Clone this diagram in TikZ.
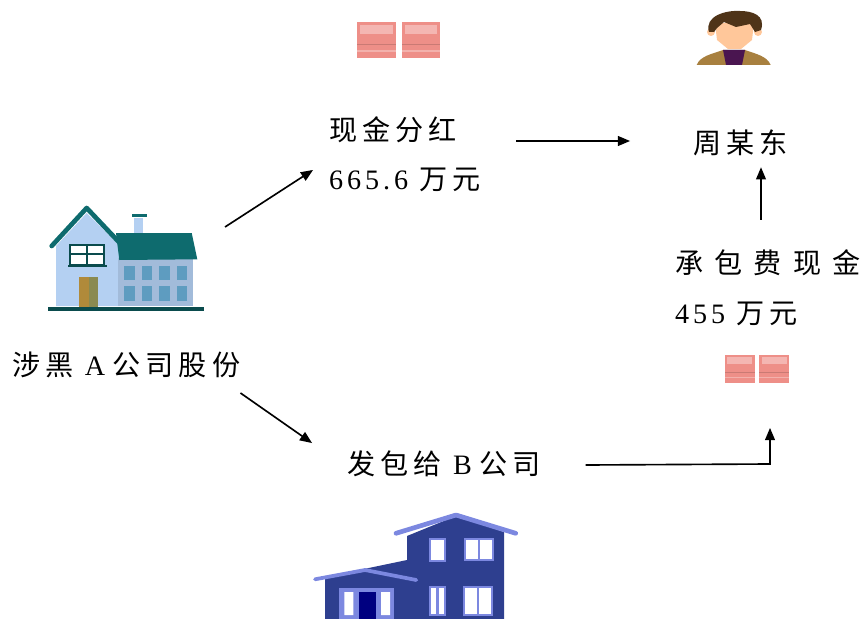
\documentclass[tikz,border=0pt]{standalone}
\usepackage{fontspec}
\usepackage{tikz}
\usetikzlibrary{arrows, calc, positioning}
\setmainfont{Noto Sans CJK SC}[LetterSpace=18]
\newfontfamily\latinfont{Liberation Serif}[LetterSpace=14]
\definecolor{tealroof}{HTML}{0E6B6E}
\definecolor{wallblue}{HTML}{B4D0F2}
\definecolor{winblue}{HTML}{5E9CC0}
\definecolor{doorleft}{HTML}{B08A3A}
\definecolor{doorright}{HTML}{8A8A50}
\definecolor{navywall}{HTML}{2E3F8F}
\definecolor{navyroof}{HTML}{7C88E0}
\definecolor{notered}{HTML}{EE8F88}
\definecolor{jacket}{HTML}{A8803F}
\definecolor{hairbrown}{HTML}{4F3418}
\definecolor{facepeach}{HTML}{FFC79A}
\definecolor{shirtpurple}{HTML}{4A1550}
\tikzset{
    label/.style={font=\fontsize{24}{28}\selectfont, inner sep=0pt, anchor=west},
    flow/.style={line width=1.4pt, ->},
    moneypile/.pic={
        \foreach \xa in {0,44.4}{
            \fill[notered] (\xa,0) rectangle ++(38.6,36.6);
            \fill[notered!65!white] (\xa+3,3) rectangle ++(32.6,9);
            \fill[notered!85!black] (\xa,22) rectangle ++(38.6,1.5);
            \fill[notered!70!white] (\xa,28) rectangle ++(38.6,2);
        }
    }
}
\begin{document}
\begin{tikzpicture}[x=0.03cm, y=-0.03cm, >=triangle 45]
    \useasboundingbox (0,0) rectangle (867,619);

    % texts
    \node[label] (share) at (12,365) {涉黑 {\latinfont A}\kern-3.4pt{} 公司股份};
    \node[label] (cash) at (329,130) {现金分红};
    \node[label] (cashsum) at (329,180) {{\latinfont 665.6} 万元};
    \node[label] (zhou) at (693,143) {周某东};
    \node[label] (fee) at (675,263) {\addfontfeature{LetterSpace=40}承包费现金};
    \node[label] (feesum) at (675,314) {{\latinfont 455} 万元};
    \node[label] (contract) at (347,464) {发包给 {\latinfont B}\kern-3.4pt{} 公司};
    \coordinate (houseA) at (205,260);

    % house of company A
    \fill[wallblue] (56,246) -- (86.7,213) -- (120,246) -- (120,306) -- (56,306) -- cycle;
    \fill[wallblue!90!black] (118,258) rectangle (193,306);
    \fill[wallblue] (134,218) rectangle (143.3,233);
    \fill[tealroof] (131.7,214) rectangle (147.3,217);
    \fill[tealroof] (116,233) -- (191.7,233) -- (197.3,259.3) -- (119.3,260) -- cycle;
    \draw[tealroof, line width=4pt, line cap=round, line join=round] (51.7,246) -- (86.7,208) -- (123.3,246.7);
    \fill[white] (70,245) rectangle (104,265);
    \draw[tealroof!70!black, line width=1.8pt] (70,245) rectangle (104,265) (87,245) -- (87,265) (70,254) -- (104,254);
    \fill[tealroof!70!black] (68.3,264.5) rectangle (106.7,266.5);
    \fill[doorleft] (79,277) rectangle (89,306.7);
    \fill[doorright] (89,277) rectangle (97.7,306.7);
    \foreach \xa in {124.3,141.7,159.3,176.7}{
        \fill[winblue] (\xa,266) rectangle ++(10.7,14);
        \fill[winblue] (\xa,286) rectangle ++(10.7,14.7);
    }
    \draw[tealroof!70!black, line width=3pt] (48,309) -- (204,309);

    % notes and person
    \pic at (357.3,21.7) {moneypile};
    \pic[scale=0.77] at (725,355) {moneypile};
    \fill[jacket] (696.7,65) .. controls (700,56) and (712,54) .. (723,50) -- (745,50) .. controls (756,54) and (767,56) .. (770.7,65) -- cycle;
    \fill[shirtpurple] (723,50) -- (745,50) -- (742,65) -- (726,65) -- cycle;
    \fill[facepeach] (711,32) circle (4) (758,32) circle (4);
    \fill[facepeach] (715,23) -- (754,23) -- (752,40) -- (741,49) -- (728,49) -- (717,40) -- cycle;
    \fill[hairbrown] (709,32) .. controls (704,16) and (726,10) .. (740,11) .. controls (752,11) and (766,15) .. (761,30) -- (755,32) -- (750,24) -- (736,27) -- (724,22) -- (717,28) -- (714,32) -- cycle;

    % house of company B
    \fill[navywall] (407,536) -- (407,560) -- (340,574) -- (325,578) -- (325,619) -- (504,619) -- (504,532) -- (456,516) -- cycle;
    \draw[navyroof, line width=4pt, line cap=round, line join=round] (396,533.3) -- (456,515) -- (515.7,533.3);
    \draw[navyroof, line width=3.2pt, line cap=round, line join=round] (315,579.3) -- (365,570) -- (416.3,580);
    \foreach \xa/\ya/\wa/\ha in {430/539.3/15/21.7, 465/539/28.3/21, 430/587.3/15/27.7, 464/587.3/27.7/27.7}{
        \fill[white] (\xa,\ya) rectangle ++(\wa,\ha);
        \draw[navyroof, line width=2pt] (\xa,\ya) rectangle ++(\wa,\ha);
    }
    \draw[navyroof, line width=2pt] (479,539) -- (479,560) (478,587.3) -- (478,615) (437.5,587.3) -- (437.5,615);
    \fill[navyroof] (339.3,588) rectangle (394.3,619);
    \fill[white] (344.3,592) rectangle (353.3,615) (381,592) rectangle (390,615);
    \fill[black!50!blue] (359.3,591.7) rectangle (376,619);

    % arrows
    \draw[flow] ($(houseA)+(20,-33)$) -- ($(cash.west)+(-16,40)$);
    \draw[flow] ($(share.east)+(0,28)$) -- ($(contract.west)+(-35,-21)$);
    \draw[flow] ($(cash.east)+(59,11)$) -- ($(zhou.west)+(-63,-2)$);
    \draw[flow] ($(fee.north west)+(86,-30)$) -- ($(zhou.south west)+(68,11)$);
    \draw[flow] ($(contract.east)+(45,1)$) -- ($(feesum.west)+(95,150)$) -- ($(feesum.west)+(95,114)$);
\end{tikzpicture}
\end{document}
